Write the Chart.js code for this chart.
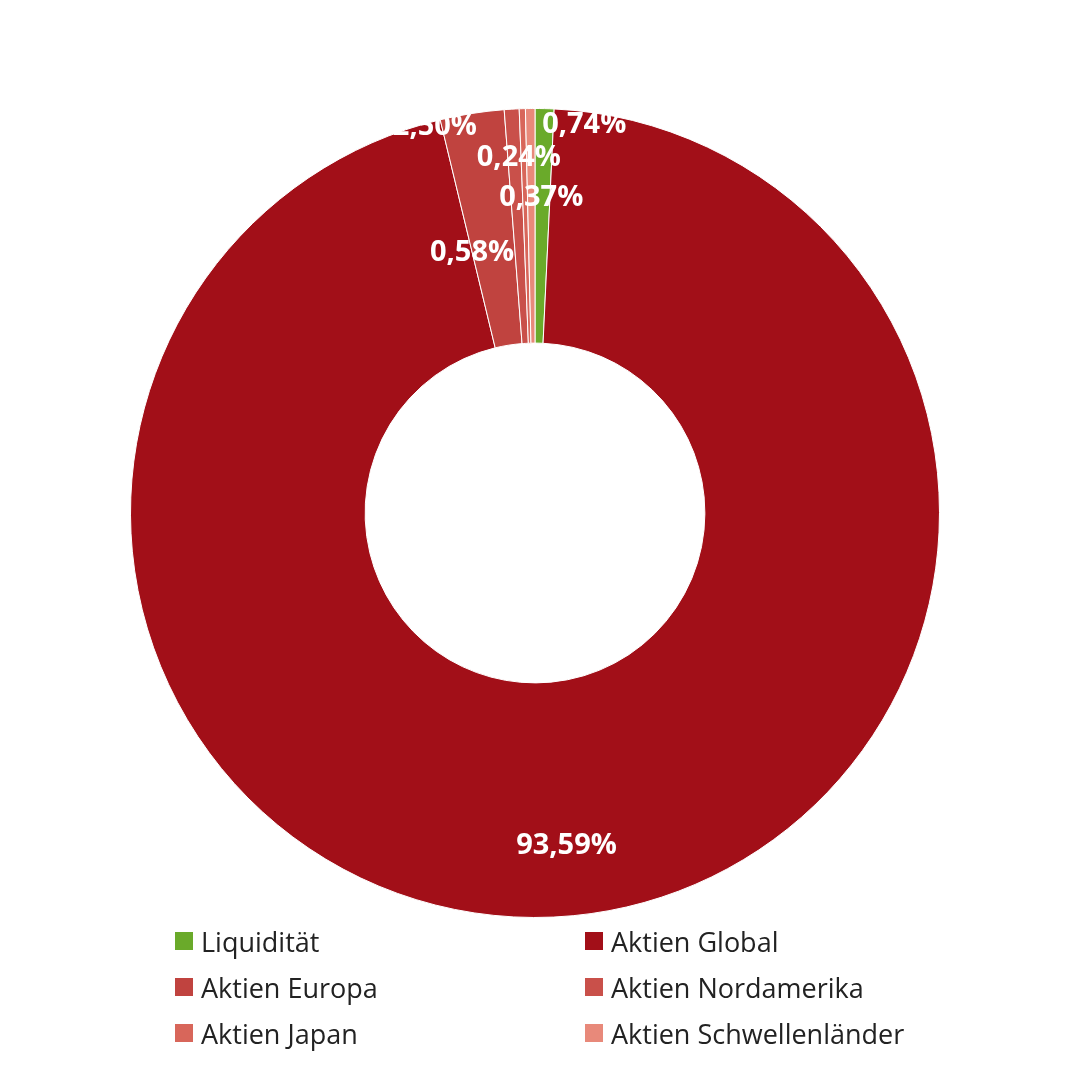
<!DOCTYPE html>
<html><head><meta charset="utf-8">
<script src="https://cdn.jsdelivr.net/npm/chart.js@4/dist/chart.umd.min.js"></script>
<style>
html,body{margin:0;padding:0;background:#fff;}
#wrap{position:relative;width:1080px;height:1080px;}
#legend{position:absolute;left:175px;top:925px;width:800px;display:grid;grid-template-columns:410px 390px;row-gap:14px;font-family:"Open Sans",sans-serif;font-size:27px;color:#222;}
#legend div{display:flex;align-items:center;height:32px;}
#legend span{display:inline-block;width:18px;height:18px;margin-right:8px;}
</style></head><body>
<div id="wrap"><canvas id="c" width="1080" height="1080"></canvas><div id="legend"></div></div>
<script>
const labels = ["Liquidität", "Aktien Global", "Aktien Europa", "Aktien Nordamerika", "Aktien Japan", "Aktien Schwellenländer"];
const values = [0.74, 93.59, 2.50, 0.58, 0.24, 0.37];
const colors = ["#6aaa2a", "#a20f18", "#c0433f", "#c9504a", "#d8665a", "#e8897a"];
// label placement tweaks (radius fraction, dx, dy)
const labelPos = [[0.93, 40, 0], [0.7, 0, 0], [0.92, -40, -5], [0.6, -45, 50], [0.79, -5, 0], [0.62, 10, 0]];

const fmt = v => v.toFixed(2).replace(".", ",") + "%";

const valueLabels = {
  id: "valueLabels",
  afterDatasetsDraw(chart) {
    const ctx = chart.ctx;
    const meta = chart.getDatasetMeta(0);
    ctx.save();
    ctx.font = "bold 29px 'Open Sans', sans-serif";
    ctx.fillStyle = "#fff";
    ctx.textAlign = "center";
    ctx.textBaseline = "middle";
    meta.data.forEach((arc, i) => {
      const p = labelPos[i];
      const a = (arc.startAngle + arc.endAngle) / 2;
      const r = arc.innerRadius + (arc.outerRadius - arc.innerRadius) * p[0];
      ctx.fillText(fmt(values[i]), arc.x + Math.cos(a) * r + p[1], arc.y + Math.sin(a) * r + p[2]);
    });
    ctx.restore();
  }
};

new Chart(document.getElementById("c"), {
  type: "doughnut",
  data: { labels, datasets: [{ data: values, backgroundColor: colors, borderColor: "#fff", borderWidth: 1 }] },
  options: {
    responsive: false,
    animation: false,
    cutout: "42%",
    layout: { padding: { top: 108, bottom: 162, left: 0, right: 10 } },
    plugins: { legend: { display: false }, tooltip: { enabled: false } }
  },
  plugins: [valueLabels]
});

const lg = document.getElementById("legend");
labels.forEach((l, i) => {
  const d = document.createElement("div");
  d.innerHTML = '<span style="background:' + colors[i] + '"></span>' + l;
  lg.appendChild(d);
});
</script>
</body></html>
